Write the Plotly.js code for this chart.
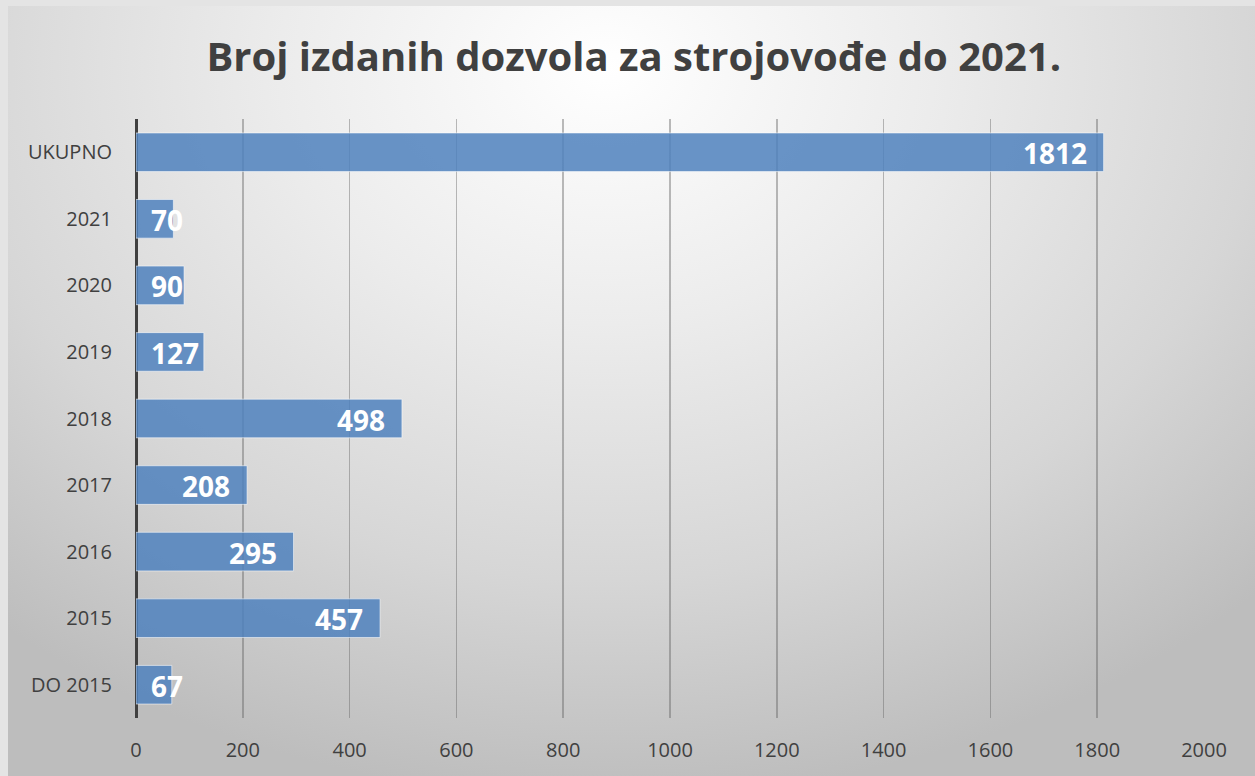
<!DOCTYPE html>
<html>
<head>
<meta charset="utf-8">
<script src="https://cdn.plot.ly/plotly-3.0.1.min.js"></script>
<style>
  html, body { margin: 0; padding: 0; width: 1255px; height: 776px; overflow: hidden; background: #e4e4e4; }
  #frame { position: absolute; left: 8px; top: 6px; width: 1247px; height: 770px;
    background: radial-gradient(ellipse 75% 95% at 48% 8%, #ffffff 0%, #ececec 35%, #d6d6d6 70%, #bdbdbd 100%); }
  #chart { position: absolute; left: 0; top: 0; width: 1255px; height: 776px; }
</style>
</head>
<body>
<div id="frame"></div>
<div id="chart"></div>
<script>
// Data (bottom to top, as Plotly draws categorical y)
const categories = ['DO 2015', '2015', '2016', '2017', '2018', '2019', '2020', '2021', 'UKUPNO'];
const values = [67, 457, 295, 208, 498, 127, 90, 70, 1812];
const labels = values.map(String);
const xTicks = [0, 200, 400, 600, 800, 1000, 1200, 1400, 1600, 1800, 2000];

const W = 1255, H = 776;
const margin = { l: 136, r: 51, t: 119, b: 58, pad: 0 };
const xRange = [0, 2000];
const pxPerUnit = (W - margin.l - margin.r) / (xRange[1] - xRange[0]);

const trace = {
  type: 'bar',
  orientation: 'h',
  y: categories,
  x: values,
  marker: {
    color: 'rgba(79,129,189,0.85)',
    line: { color: 'rgba(255,255,255,0.55)', width: 1 }
  },
  hoverinfo: 'x+y'
};

// Data labels: inside end of the bar, or starting near the axis when the bar is too short
const labelFont = { family: 'Open Sans, sans-serif', size: 28, color: '#ffffff', weight: 700 };
const annotations = values.map((v, i) => {
  const textW = labels[i].length * 16;
  const fits = v * pxPerUnit >= textW + 30;
  return {
    x: fits ? v : 0,
    y: i,               // category index on the category axis
    xref: 'x', yref: 'y',
    text: '<b>' + labels[i] + '</b>',
    showarrow: false,
    xanchor: fits ? 'right' : 'left',
    xshift: fits ? -15 : 13,
    yshift: -1,
    font: labelFont
  };
});

const layout = {
  width: W, height: H,
  paper_bgcolor: 'rgba(0,0,0,0)',
  plot_bgcolor: 'rgba(0,0,0,0)',
  margin: margin,
  title: {
    text: '<b>Broj izdanih dozvola za strojovođe do 2021.</b>',
    font: { family: 'Open Sans, sans-serif', size: 40, color: '#404040' },
    x: 0.505, xanchor: 'center',
    y: 0.926, yanchor: 'middle'
  },
  bargap: 0.42,
  showlegend: false,
  xaxis: {
    range: xRange,
    tickvals: xTicks,
    ticktext: xTicks.map(String),
    showgrid: true,
    gridcolor: 'rgba(95,95,95,0.42)',
    gridwidth: 1.5,
    zeroline: true,
    zerolinecolor: '#404040',
    zerolinewidth: 3,
    showline: false,
    ticks: '',
    ticklabelstandoff: 18,
    tickfont: { family: 'Open Sans, sans-serif', size: 20, color: '#404040' },
    fixedrange: true
  },
  yaxis: {
    type: 'category',
    categoryorder: 'array',
    categoryarray: categories,
    range: [-0.5, categories.length - 0.5],
    autorange: false,
    showgrid: false,
    zeroline: false,
    showline: false,
    ticks: '',
    ticklabelstandoff: 23,
    tickfont: { family: 'Open Sans, sans-serif', size: 20, color: '#404040' },
    fixedrange: true
  },
  annotations: annotations
};

Plotly.newPlot('chart', [trace], layout, { displayModeBar: false, staticPlot: true });
</script>
</body>
</html>
